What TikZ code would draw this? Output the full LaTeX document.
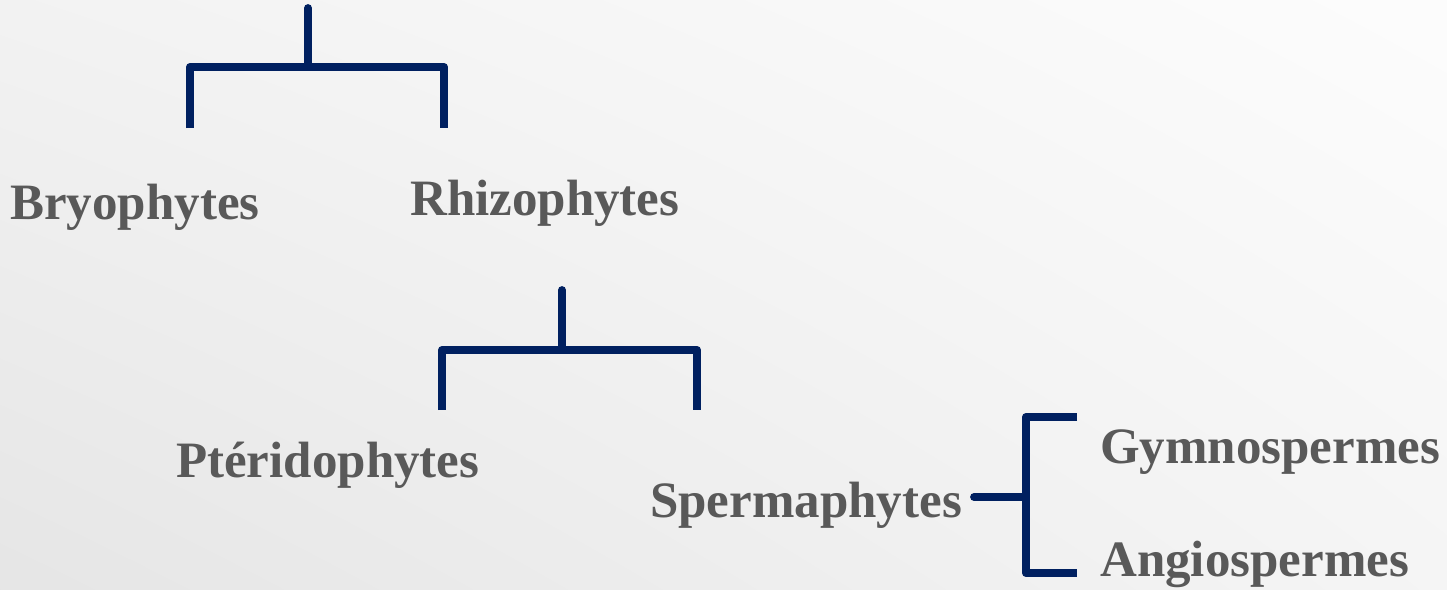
\documentclass[tikz,border=0pt]{standalone}
\usepackage{fontspec}
\usetikzlibrary{shadings}
\setmainfont{Liberation Serif}
\definecolor{navy}{HTML}{002060}
\definecolor{labelgray}{HTML}{595959}
\begin{document}
\begin{tikzpicture}[x=1pt,y=-1pt,
  branch/.style={draw=navy, line width=7.8pt, line join=round},
  stem/.style={branch, line cap=round},
  taxon/.style={text=labelgray, font=\fontsize{51}{61}\selectfont\bfseries,
                anchor=base west, inner sep=0pt}]
% soft grey backdrop, lighter towards the upper right
\shade[lower left=black!10, upper left=black!5, lower right=black!4, upper right=black!1]
  (0,0) rectangle (1447,589);
\useasboundingbox (0,0) rectangle (1447,589);

% labels
\node[taxon] (bryo)  at (10,219)   {Bryophytes};
\node[taxon] (rhizo) at (410,215)  {Rhizophytes};
\node[taxon] (pteri) at (176,477)  {Ptéridophytes};
\node[taxon] (sperm) at (650,517)  {Spermaphytes};
\node[taxon] (gymno) at (1100,463) {Gymnospermes};
\node[taxon] (angio) at (1100,576) {Angiospermes};

% first split: Bryophytes / Rhizophytes
\coordinate (root)  at (308,8);
\coordinate (j1)    at (308,67);
\coordinate (j1l)   at (190,67);
\coordinate (j1r)   at (444,67);
\coordinate (l1)    at (190,128);
\coordinate (r1)    at (444,128);
\draw[branch] (l1) -- (j1l) -- (j1r) -- (r1);
\draw[stem] (root) -- (j1);

% second split: Ptéridophytes / Spermaphytes
\coordinate (top2)  at (562,290);
\coordinate (j2)    at (562,350);
\coordinate (j2l)   at (442,350);
\coordinate (j2r)   at (697,350);
\coordinate (l2)    at (442,410);
\coordinate (r2)    at (697,410);
\draw[branch] (l2) -- (j2l) -- (j2r) -- (r2);
\draw[stem] (top2) -- (j2);

% third split: Gymnospermes / Angiospermes
\coordinate (s3)    at (974,497);
\coordinate (j3)    at (1026,497);
\coordinate (j3t)   at (1026,417);
\coordinate (j3b)   at (1026,573);
\coordinate (g3)    at (1077,417);
\coordinate (a3)    at (1077,573);
\draw[branch] (g3) -- (j3t) -- (j3b) -- (a3);
\draw[stem] (s3) -- (j3);
\end{tikzpicture}
\end{document}
